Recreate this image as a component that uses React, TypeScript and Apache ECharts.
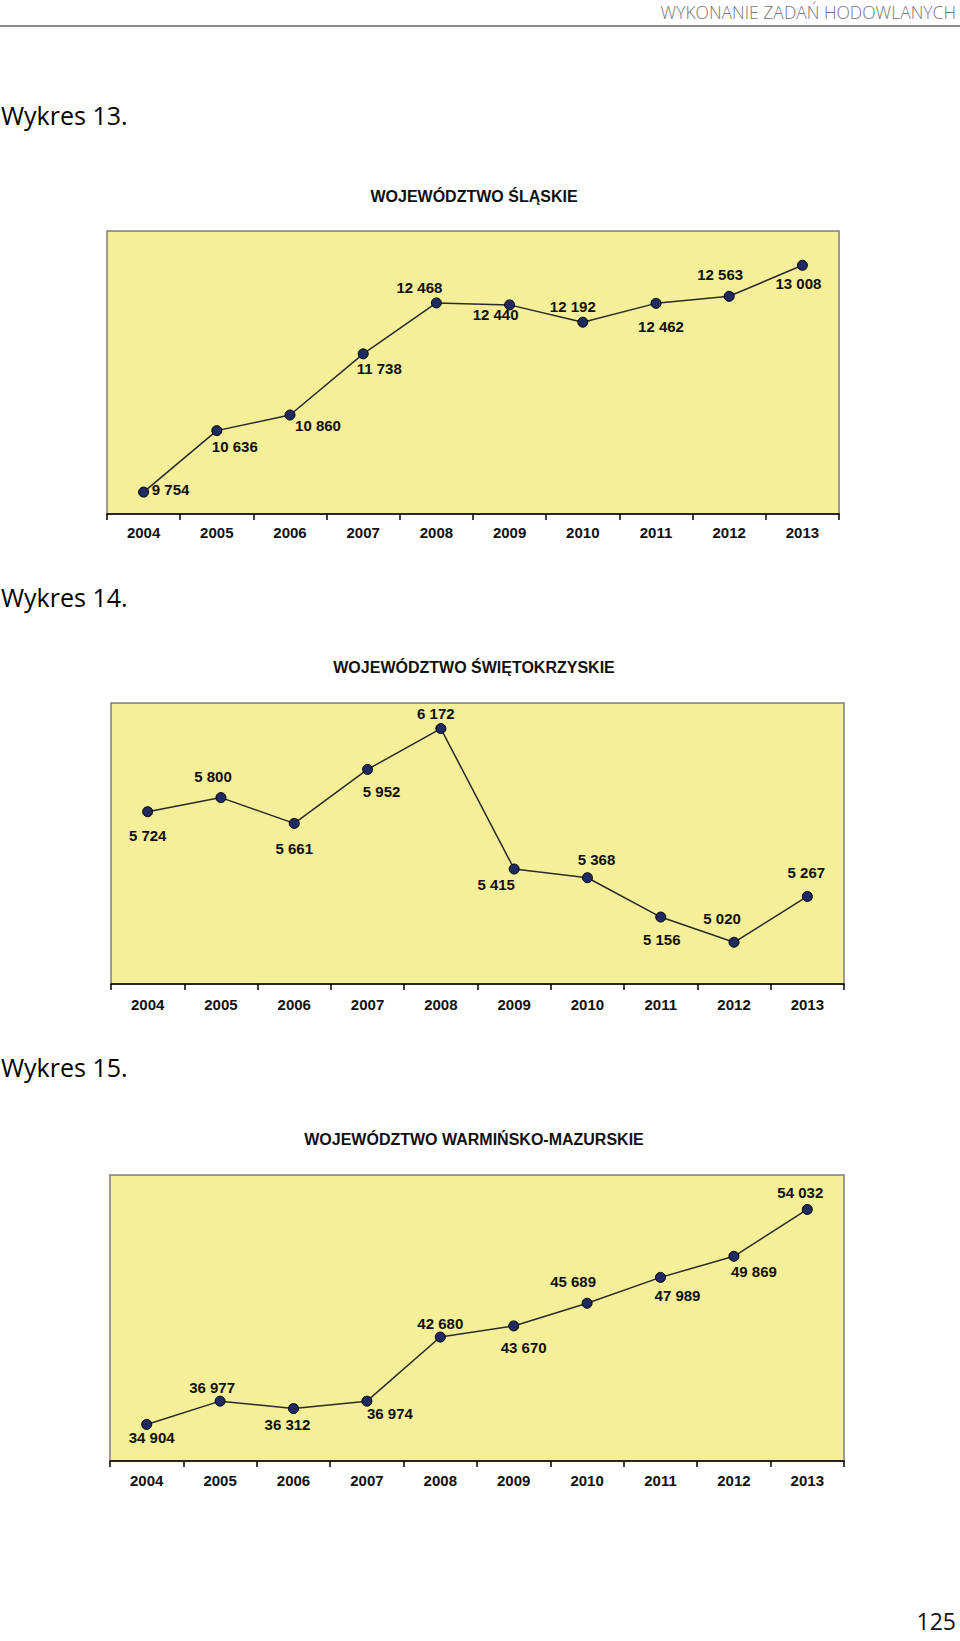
import React, { useEffect, useRef } from "react";
import * as echarts from "echarts";

// ---------- data ----------
const years = ["2004", "2005", "2006", "2007", "2008", "2009", "2010", "2011", "2012", "2013"];
const slaskieValues = [9754, 10636, 10860, 11738, 12468, 12440, 12192, 12462, 12563, 13008];
const swietokrzyskieValues = [5724, 5800, 5661, 5952, 6172, 5415, 5368, 5156, 5020, 5267];
const warminskoMazurskieValues = [34904, 36977, 36312, 36974, 42680, 43670, 45689, 47989, 49869, 54032];
const chartTitles = ["WOJEWÓDZTWO ŚLĄSKIE", "WOJEWÓDZTWO ŚWIĘTOKRZYSKIE", "WOJEWÓDZTWO WARMIŃSKO-MAZURSKIE"];
const figureCaptions = ["Wykres 13.", "Wykres 14.", "Wykres 15."];
const headerText = "WYKONANIE ZADAŃ HODOWLANYCH";
const pageNumber = "125";

// ---------- layout (label placement relative to each marker, px) ----------
const slaskieLabelOffsets: [number, number][] = [
  [27, -3], [18, 16], [28, 10], [16, 15], [-17, -15], [-14, 10], [-10, -16], [5, 23], [-9, -22], [-4, 18],
];
const swietokrzyskieLabelOffsets: [number, number][] = [
  [0, 24], [-8, -21], [0, 25], [14, 22], [-5, -15], [-18, 15], [9, -18], [1, 22], [-12, -24], [-1, -24],
];
const warminskoLabelOffsets: [number, number][] = [
  [5, 13], [-8, -14], [-6, 16], [23, 12], [0, -14], [10, 22], [-14, -22], [17, 18], [20, 15], [-7, -17],
];

const grids = [
  { left: 107, top: 231, width: 732, height: 283 },
  { left: 111, top: 703, width: 733, height: 281 },
  { left: 110, top: 1175, width: 734, height: 286 },
];
const yRanges = [
  { min: 9440, max: 13500 },
  { min: 4795, max: 6310 },
  { min: 31650, max: 57100 },
];
const labelMargins = [11, 13, 12];
const titleY = [196, 667, 1139];
const captionY = [115, 597, 1067];

const FONT = "'Liberation Sans', Arial, sans-serif";
const PAGE_FONT = "'Open Sans', 'Noto Sans', sans-serif";

const fmt = (v: number) => String(v).replace(/\B(?=(\d{3})+(?!\d))/g, " ");

export default function App() {
  const ref = useRef<HTMLDivElement>(null);

  useEffect(() => {
    if (!ref.current) return;
    const chart = echarts.init(ref.current, undefined, { renderer: "svg" });

    const seriesValues = [slaskieValues, swietokrzyskieValues, warminskoMazurskieValues];
    const seriesOffsets = [slaskieLabelOffsets, swietokrzyskieLabelOffsets, warminskoLabelOffsets];

    const option: any = {
      animation: false,
      backgroundColor: "#ffffff",
      grid: grids.map((g) => ({
        ...g,
        show: true,
        backgroundColor: "#F4EF98",
        borderColor: "#7d7d7d",
        borderWidth: 1.5,
        containLabel: false,
      })),
      xAxis: grids.map((_, i) => ({
        type: "category",
        gridIndex: i,
        data: years,
        boundaryGap: true,
        axisLine: { show: true, lineStyle: { color: "#000", width: 1.5 } },
        axisTick: { show: true, length: 6, lineStyle: { color: "#000", width: 1.5 } },
        axisLabel: {
          margin: labelMargins[i],
          color: "#111",
          fontFamily: FONT,
          fontWeight: "bold",
          fontSize: 15,
        },
        splitLine: { show: false },
      })),
      yAxis: grids.map((_, i) => ({
        type: "value",
        gridIndex: i,
        min: yRanges[i].min,
        max: yRanges[i].max,
        show: false,
        splitLine: { show: false },
      })),
      series: seriesValues.map((vals, i) => ({
        type: "line",
        xAxisIndex: i,
        yAxisIndex: i,
        data: vals.map((v, j) => ({ value: v, label: { offset: seriesOffsets[i][j] } })),
        symbol: "circle",
        symbolSize: 10,
        showAllSymbol: true,
        lineStyle: { color: "#2a2a2a", width: 1.5 },
        itemStyle: { color: "#1f2a63", borderColor: "#000", borderWidth: 1 },
        label: {
          show: true,
          position: "inside",
          formatter: (p: any) => fmt(p.value),
          color: "#111",
          fontFamily: FONT,
          fontWeight: "bold",
          fontSize: 15,
        },
        emphasis: { disabled: true },
      })),
      graphic: [
        {
          type: "text",
          x: 956,
          y: 12,
          style: {
            text: headerText,
            fill: "#777777",
            font: `300 17.5px ${PAGE_FONT}`,
            textAlign: "right",
            textVerticalAlign: "middle",
          },
        },
        {
          type: "line",
          shape: { x1: 0, y1: 26, x2: 960, y2: 26 },
          style: { stroke: "#8c8c8c", lineWidth: 2 },
        },
        ...figureCaptions.map((c, i) => ({
          type: "text",
          x: 1,
          y: captionY[i],
          style: {
            text: c,
            fill: "#000",
            font: `25px ${PAGE_FONT}`,
            textAlign: "left",
            textVerticalAlign: "middle",
          },
        })),
        ...chartTitles.map((t, i) => ({
          type: "text",
          x: 474,
          y: titleY[i],
          style: {
            text: t,
            fill: "#111",
            font: `bold 16px ${FONT}`,
            textAlign: "center",
            textVerticalAlign: "middle",
          },
        })),
        {
          type: "text",
          x: 956,
          y: 1621,
          style: {
            text: pageNumber,
            fill: "#111",
            font: `23px ${PAGE_FONT}`,
            textAlign: "right",
            textVerticalAlign: "middle",
          },
        },
      ],
    };

    chart.setOption(option);
    return () => chart.dispose();
  }, []);

  return (
    <div
      ref={ref}
      style={{ position: "absolute", left: 0, top: 0, width: 960, height: 1641, background: "#fff" }}
    />
  );
}
